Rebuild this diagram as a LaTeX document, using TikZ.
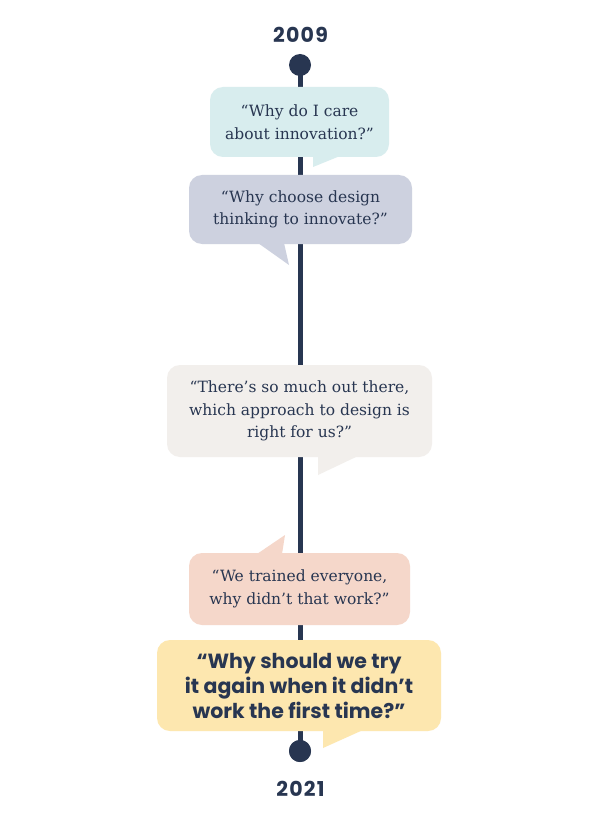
\documentclass[tikz,border=0pt]{standalone}
\usepackage{fontspec}
\newfontfamily\qserif{DejaVu Serif}
\newfontfamily\qsans{Poppins}
\newfontfamily\qyear{Poppins}[LetterSpace=6]
\definecolor{navy}{HTML}{283651}
\definecolor{cA}{HTML}{D8EDEE}
\definecolor{cB}{HTML}{CDD1DF}
\definecolor{cC}{HTML}{F2EFEC}
\definecolor{cD}{HTML}{F5D7CA}
\definecolor{cE}{HTML}{FDE7AF}
\tikzset{
  bubble/.style={fill=#1, rounded corners=13pt, inner sep=0pt, align=center, text=navy,
    font=\qserif\fontsize{15.5}{22.5}\selectfont},
  yearlbl/.style={text=navy, font=\qyear\bfseries\fontsize{20.5}{22}\selectfont},
  dot/.style={circle, fill=navy, minimum size=22pt, inner sep=0pt},
}
\begin{document}
\begin{tikzpicture}[x=1pt,y=-1pt]
\useasboundingbox (0,0) rectangle (600,826);
\fill[white] (0,0) rectangle (600,826);
\node[dot] (top) at (300,65) {};
\node[dot] (bot) at (300,751) {};
\draw[navy, line width=5pt] (top.center) -- (bot.center);
\node[yearlbl] (y1) at (300.5,35) {2009};
\node[yearlbl] (y2) at (300.5,789) {2021};
% bubble 1
\fill[cA] (313,156) -- (340,156) -- (313,167) -- cycle;
\node[bubble=cA, minimum width=179pt, minimum height=70pt] (b1) at (299.5,122) {“Why do I care\\about innovation?”};
% bubble 2
\fill[cB] (258,243) -- (284,243) -- (289,265) -- cycle;
\node[bubble=cB, minimum width=223pt, minimum height=69pt] (b2) at (300.5,209.5) {“Why choose design\\thinking to innovate?”};
% bubble 3
\fill[cC] (318,456) -- (358,456) -- (318,475) -- cycle;
\node[bubble=cC, minimum width=265pt, minimum height=92pt] (b3) at (299.5,411) {“There’s so much out there,\\which approach to design is\\right for us?”};
% bubble 4
\fill[cD] (257,554) -- (282,554) -- (285,535) -- cycle;
\node[bubble=cD, minimum width=221pt, minimum height=72pt] (b4) at (299.5,589) {“We trained everyone,\\why didn’t that work?”};
% bubble 5
\fill[cE] (323,730) -- (363,730) -- (323,748) -- cycle;
\node[bubble=cE, minimum width=284pt, minimum height=91pt, font=\qsans\bfseries\fontsize{20.5}{25}\selectfont] (b5) at (299,685.5) {“Why should we try\\it again when it didn’t\\work the first time?”};
\node[dot] at (bot) {};
\end{tikzpicture}
\end{document}
